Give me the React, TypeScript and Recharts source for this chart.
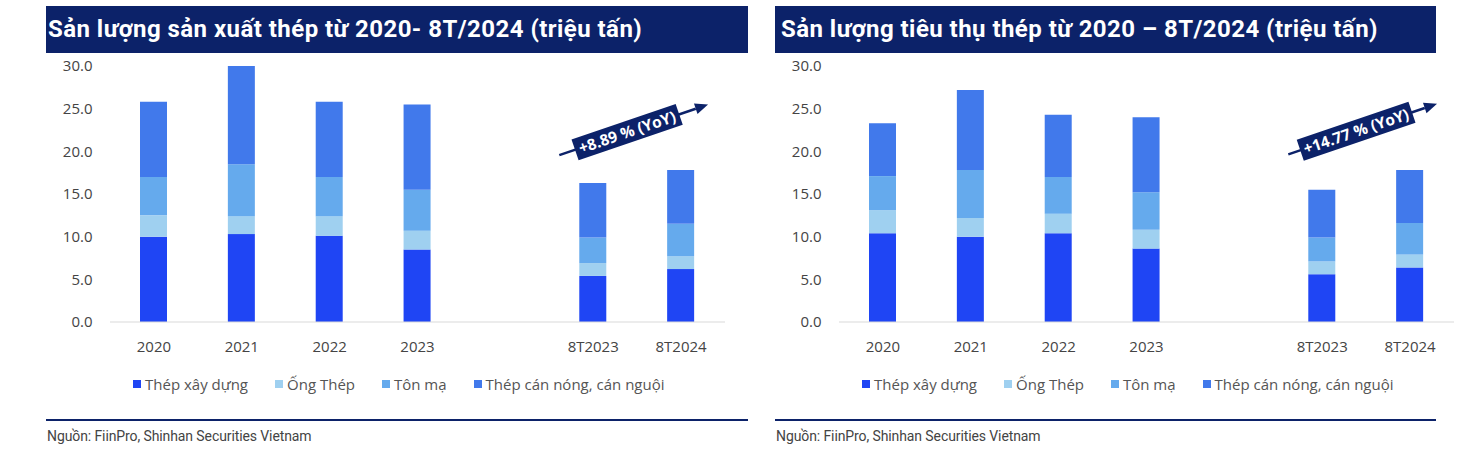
import React from "react";
import { Bar, BarChart, ReferenceLine, XAxis, YAxis } from "recharts";

const categories = ["2020", "2021", "2022", "2023", " ", "8T2023", "8T2024"];
const seriesNames = ["Thép xây dựng", "Ống Thép", "Tôn mạ", "Thép cán nóng, cán nguội"];
const seriesColors = ["#1f45f4", "#9fd0f0", "#65aaed", "#4179eb"];
const yTicks = [0, 5, 10, 15, 20, 25, 30];

// San luong san xuat (trieu tan)
const prodXayDung = [10.0, 10.3, 10.1, 8.5, null, 5.4, 6.2];
const prodOngThep = [2.5, 2.1, 2.3, 2.2, null, 1.5, 1.5];
const prodTonMa = [4.5, 6.1, 4.6, 4.8, null, 3.0, 3.8];
const prodCanNong = [8.8, 11.5, 8.8, 10.0, null, 6.4, 6.3];

// San luong tieu thu (trieu tan)
const consXayDung = [10.4, 10.0, 10.4, 8.6, null, 5.6, 6.4];
const consOngThep = [2.7, 2.2, 2.3, 2.2, null, 1.5, 1.5];
const consTonMa = [4.0, 5.6, 4.3, 4.4, null, 2.8, 3.7];
const consCanNong = [6.2, 9.4, 7.3, 8.8, null, 5.6, 6.2];

const NAVY = "#0c2269";
const AXIS_FONT = "'Open Sans', sans-serif";

type Row = { cat: string; [k: string]: string | number | null };

function buildRows(series: (number | null)[][]): Row[] {
  return categories.map((cat, i) => {
    const row: Row = { cat };
    series.forEach((s, j) => {
      row["s" + j] = s[i];
    });
    return row;
  });
}

const prodRows = buildRows([prodXayDung, prodOngThep, prodTonMa, prodCanNong]);
const consRows = buildRows([consXayDung, consOngThep, consTonMa, consCanNong]);

function makeYoyShape(label: string, boxW: number) {
  return (props: any) => {
    const { x1, y1, x2, y2 } = props;
    if (x1 == null || x2 == null) return <g />;
    const dx = x2 - x1;
    const dy = y2 - y1;
    const sx = x1 - dx * 0.386;
    const sy = y1 - dy * 0.386;
    const ex = x2 + dx * 0.307;
    const ey = y2 + dy * 0.307;
    const ang = Math.atan2(dy, dx);
    const deg = (ang * 180) / Math.PI;
    const cx = x1 + dx * 0.386;
    const cy = y1 + dy * 0.386;
    const hl = 13;
    const hw = 5.5;
    const bx = ex - hl * Math.cos(ang);
    const by = ey - hl * Math.sin(ang);
    const px = -Math.sin(ang) * hw;
    const py = Math.cos(ang) * hw;
    return (
      <g>
        <line x1={sx} y1={sy} x2={bx} y2={by} stroke={NAVY} strokeWidth={2.5} />
        <polygon points={`${ex},${ey} ${bx + px},${by + py} ${bx - px},${by - py}`} fill={NAVY} />
        <g transform={`translate(${cx},${cy}) rotate(${deg})`}>
          <rect x={-boxW / 2} y={-11} width={boxW} height={22} fill={NAVY} />
          <text
            x={0}
            y={0}
            dy="0.36em"
            textAnchor="middle"
            fill="#ffffff"
            fontFamily={AXIS_FONT}
            fontWeight={700}
            fontSize={15.5}
          >
            {label}
          </text>
        </g>
      </g>
    );
  };
}

type PanelProps = {
  left: number;
  barWidth: number;
  title: string;
  titlePad: number;
  rows: Row[];
  yoy: string;
  yoyBoxW: number;
  seg: [number, number];
};

function Panel({ left, barWidth, title, titlePad, rows, yoy, yoyBoxW, seg }: PanelProps) {
  return (
    <>
      <div
        style={{
          position: "absolute",
          left,
          top: 6,
          width: barWidth,
          height: 47,
          background: NAVY,
          color: "#fff",
          fontFamily: "Roboto, sans-serif",
          fontWeight: 700,
          fontSize: 24,
          letterSpacing: 0.45,
          lineHeight: "47px",
          paddingLeft: titlePad,
          boxSizing: "border-box",
          whiteSpace: "nowrap",
        }}
      >
        {title}
      </div>
      <div style={{ position: "absolute", left: left - 6, top: 55 }}>
        <BarChart
          width={700}
          height={307}
          data={rows}
          margin={{ top: 11, right: 15, bottom: 0, left: 0 }}
          barSize={27}
        >
          <XAxis
            dataKey="cat"
            interval={0}
            tickLine={false}
            tickMargin={13}
            axisLine={{ stroke: "#d9d9d9", strokeWidth: 1.2 }}
            height={40}
            tick={{ fontFamily: AXIS_FONT, fontSize: 15, fill: "#444" }}
          />
          <YAxis
            width={70}
            domain={[0, 30]}
            ticks={yTicks}
            axisLine={false}
            tickLine={false}
            tickMargin={11.5}
            tickFormatter={(v: number) => v.toFixed(1)}
            tick={{ fontFamily: AXIS_FONT, fontSize: 15, fill: "#444" }}
          />
          {seriesNames.map((name, j) => (
            <Bar
              key={name}
              dataKey={"s" + j}
              name={name}
              stackId="a"
              fill={seriesColors[j]}
              isAnimationActive={false}
            />
          ))}
          <ReferenceLine
            segment={[
              { x: "8T2023", y: seg[0] },
              { x: "8T2024", y: seg[1] },
            ]}
            shape={makeYoyShape(yoy, yoyBoxW)}
            ifOverflow="visible"
          />
        </BarChart>
      </div>
      <div
        style={{
          position: "absolute",
          left: left + 87,
          top: 373,
          display: "flex",
          gap: 27,
          fontFamily: AXIS_FONT,
          fontSize: 15,
          color: "#555",
          whiteSpace: "nowrap",
        }}
      >
        {seriesNames.map((name, j) => (
          <div key={name} style={{ display: "flex", alignItems: "center", lineHeight: "22px" }}>
            <span
              style={{ display: "inline-block", width: 8, height: 8, background: seriesColors[j], marginRight: 4 }}
            />
            {name}
          </div>
        ))}
      </div>
      <div style={{ position: "absolute", left, top: 419, width: barWidth, height: 2, background: NAVY }} />
      <div
        style={{
          position: "absolute",
          left: left + 1,
          top: 428,
          fontFamily: "Roboto, sans-serif",
          fontSize: 14,
          letterSpacing: -0.1,
          color: "#444",
          whiteSpace: "nowrap",
        }}
      >
        Nguồn: FiinPro, Shinhan Securities Vietnam
      </div>
    </>
  );
}

export default function App() {
  return (
    <div style={{ position: "absolute", left: 0, top: 0, width: 1471, height: 467, background: "#fff" }}>
      <Panel
        left={46}
        barWidth={702}
        title="Sản lượng sản xuất thép từ 2020- 8T/2024 (triệu tấn)"
        titlePad={2}
        rows={prodRows}
        yoy="+8.89 % (YoY)"
        yoyBoxW={110}
        seg={[20.9, 24.4]}
      />
      <Panel
        left={775}
        barWidth={661}
        title="Sản lượng tiêu thụ thép từ 2020 – 8T/2024 (triệu tấn)"
        titlePad={6}
        rows={consRows}
        yoy="+14.77 % (YoY)"
        yoyBoxW={118}
        seg={[21.0, 24.5]}
      />
    </div>
  );
}
